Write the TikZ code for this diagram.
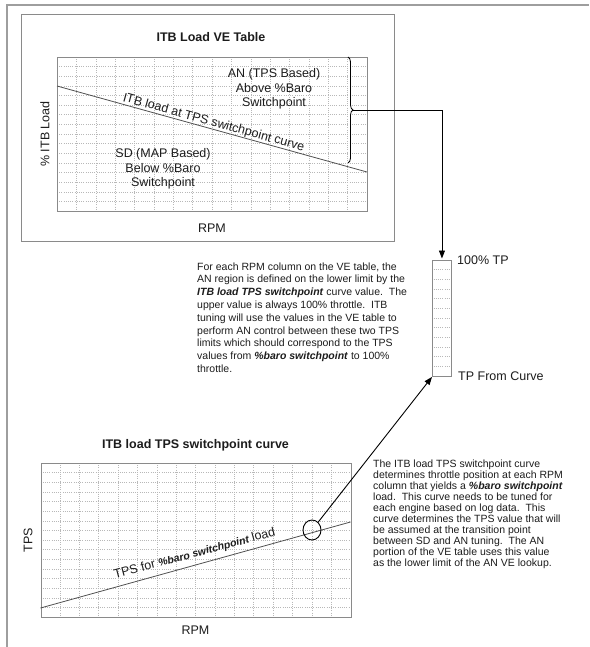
\documentclass[tikz,border=0pt]{standalone}
\usepackage{fontspec}
\setmainfont{Liberation Sans}
\usetikzlibrary{decorations.pathreplacing,arrows.meta,shapes.geometric}
\definecolor{framegray}{HTML}{9E9E9E}
\definecolor{boxgray}{HTML}{8A8A8A}
\definecolor{gridgray}{HTML}{B8B8B8}
\definecolor{curvegray}{HTML}{505050}
\definecolor{txt}{HTML}{1C1C1C}
\tikzset{
  frameline/.style={draw=framegray, line width=1.3pt},
  panel/.style={draw=boxgray, line width=1pt, inner sep=0pt, anchor=north west},
  gridline/.style={draw=gridgray, line width=0.5pt, dash pattern=on 1pt off 1.2pt},
  chartborder/.style={draw=boxgray, line width=1pt, inner sep=0pt, anchor=north west, minimum width=310pt, minimum height=154pt},
  curve/.style={draw=curvegray, line width=0.8pt},
  connector/.style={draw=black, line width=0.9pt},
  tip/.style={-{Triangle[length=8pt,width=6pt]}},
  lbl/.style={font=\fontsize{12.5}{14.5}\selectfont, text=txt, inner sep=0pt},
  ttl/.style={font=\bfseries\fontsize{12.5}{14.5}\selectfont, text=txt, inner sep=0pt},
  para/.style={align=left, inner sep=0pt, anchor=north west, text=txt},
}
\begin{document}
\begin{tikzpicture}[x=1pt,y=-1pt]
\useasboundingbox (0,0) rectangle (589,647);
% outer frame
\draw[frameline] (7,647) -- (7,5) -- (589,5);
% ---------- top panel ----------
\node[panel, minimum width=373pt, minimum height=227pt] (vepanel) at (21,14) {};
\node[ttl] (vetitle) at (211,37) {ITB Load VE Table};
\foreach \i in {1,...,15} \draw[gridline] ({57+\i*19.375},57) -- ({57+\i*19.375},211);
\foreach \j in {1,...,15} \draw[gridline] (57,{57+\j*9.625}) -- (367,{57+\j*9.625});
\node[chartborder] (vegrid) at (57,57) {};
\coordinate (vecurveA) at (57,86);
\coordinate (vecurveB) at (367,172);
\draw[curve] (vecurveA) -- (vecurveB);
\node[lbl, rotate=-15.5, anchor=south] (vecurvetxt) at (212,128.8) {ITB load at TPS switchpoint curve};
\node[lbl, align=center] (antxt) at (274,89) {AN (TPS Based)\\Above \%Baro\\Switchpoint};
\node[lbl, align=center] (sdtxt) at (163,169) {SD (MAP Based)\\Below \%Baro\\Switchpoint};
\node[lbl, rotate=90] (veylab) at (45,134) {\% ITB Load};
\node[lbl] (vexlab) at (212,228) {RPM};
\coordinate (braceA) at (348,57);
\coordinate (braceB) at (348,163);
\draw[connector, line width=0.8pt, decorate, decoration={brace, amplitude=5pt}] (braceA) -- (braceB);
\coordinate (bracetip) at (353,110);
% ---------- TP column ----------
\foreach \j in {1,...,11} \draw[gridline] (433.5,{260+\j*9.667}) -- (450.5,{260+\j*9.667});
\node[draw=boxgray, line width=0.9pt, inner sep=0pt, anchor=north west, minimum width=19pt, minimum height=116pt] (tpbox) at (432,260) {};
\node[lbl, anchor=west] (tp100) at (457,260) {100\% TP};
\node[lbl, anchor=west] (tpcurve) at (458,376) {TP From Curve};
\draw[connector, tip, shorten >=1.5pt] (bracetip) -| (tpbox.north);
% ---------- middle paragraph ----------
\node[para, font=\fontsize{10.5}{12.8}\selectfont] (midpara) at (197,262.3) {For each RPM column on the VE table, the\\
AN region is defined on the lower limit by the\\
\textbf{\textit{ITB load TPS switchpoint}} curve value.\ \ The\\
upper value is always 100\% throttle.\ \ ITB\\
tuning will use the values in the VE table to\\
perform AN control between these two TPS\\
limits which should correspond to the TPS\\
values from \textbf{\textit{\%baro switchpoint}} to 100\%\\
throttle.};
% ---------- bottom chart ----------
\node[ttl] (tpstitle) at (195.5,445) {ITB load TPS switchpoint curve};
\foreach \i in {1,...,15} \draw[gridline] ({40.5+\i*19.375},463) -- ({40.5+\i*19.375},617);
\foreach \j in {1,...,15} \draw[gridline] (40.5,{463+\j*9.625}) -- (350.5,{463+\j*9.625});
\node[chartborder] (tpsgrid) at (40.5,463) {};
\coordinate (tpscurveA) at (40.5,608);
\coordinate (tpscurveB) at (350.5,522);
\draw[curve] (tpscurveA) -- (tpscurveB);
\node[lbl, rotate=15, anchor=base] (tpscurvetxt) at (195.5,557) {TPS for {\bfseries\itshape\fontsize{10.5}{12}\selectfont \%baro switchpoint} load};
\node[lbl, rotate=90] (tpsylab) at (28,540) {TPS};
\node[lbl] (tpsxlab) at (195.5,630) {RPM};
\node[draw=black, line width=0.9pt, ellipse, inner sep=0pt, minimum width=18pt, minimum height=20pt] (circ) at (312,530) {};
\draw[connector, tip] (circ) -- (tpbox.south west);
% ---------- right paragraph ----------
\node[para, font=\fontsize{10.5}{11}\selectfont] (rightpara) at (373,459.5) {The ITB load TPS switchpoint curve\\
determines throttle position at each RPM\\
column that yields a \textbf{\textit{\%baro switchpoint}}\\
load.\ \ This curve needs to be tuned for\\
each engine based on log data.\ \ This\\
curve determines the TPS value that will\\
be assumed at the transition point\\
between SD and AN tuning.\ \ The AN\\
portion of the VE table uses this value\\
as the lower limit of the AN VE lookup.};
\end{tikzpicture}
\end{document}
